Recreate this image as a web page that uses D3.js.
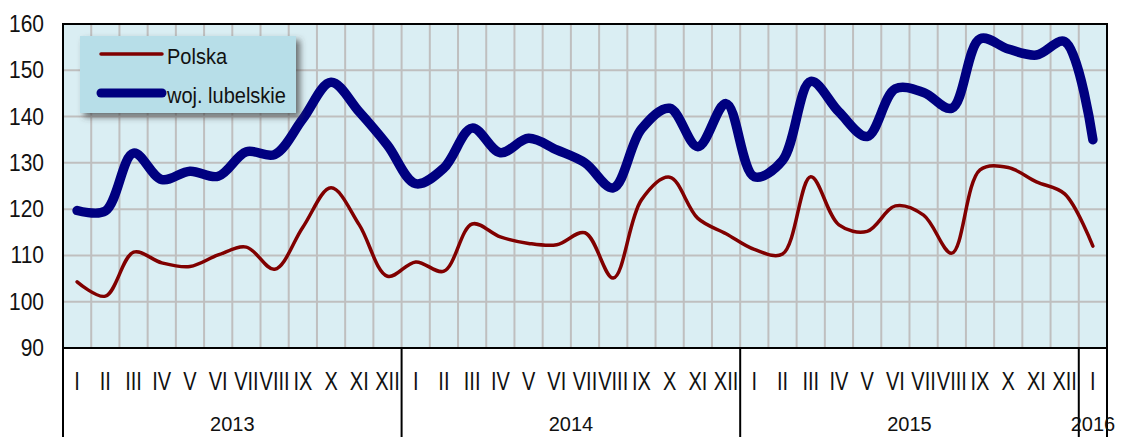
<!DOCTYPE html>
<html>
<head>
<meta charset="utf-8">
<script src="https://cdn.jsdelivr.net/npm/d3@7"></script>
<style>
  html, body { margin: 0; padding: 0; background: #ffffff; }
  svg { display: block; font-family: "Liberation Sans", Arial, sans-serif; }
</style>
</head>
<body>
<svg id="chart" width="1122" height="437"></svg>
<script>
// Month labels and years
var Months = ["I", "II", "III", "IV", "V", "VI", "VII", "VIII", "IX", "X", "XI", "XII"];
var Years = ["2013", "2014", "2015", "2016"];
var YearMonths = [12, 12, 12, 1];
var YTicks = [90, 100, 110, 120, 130, 140, 150, 160];
// Series values (Jan 2013 .. Jan 2016)
var Polska = [104.3, 101.2, 110.7, 108.4, 107.6, 110.1, 111.8, 107.0, 116.1, 124.6, 116.6, 105.5,
              108.6, 106.6, 116.8, 114.0, 112.6, 112.3, 114.9, 105.1, 122.0, 126.9, 118.0, 114.7,
              111.3, 110.3, 127.0, 116.6, 115.2, 120.7, 118.7, 110.5, 128.5, 129.0, 125.9, 123.3,
              112.0];
var Lubelskie = [119.7, 119.6, 132.1, 126.4, 128.2, 127.1, 132.4, 131.8, 139.5, 147.4, 141.0, 133.8,
                 125.5, 128.9, 137.5, 132.2, 135.3, 132.8, 130.0, 124.6, 137.3, 141.8, 133.5, 142.8,
                 127.0, 130.5, 147.6, 141.0, 135.7, 146.0, 145.2, 141.8, 156.8, 154.6, 153.3, 156.2,
                 135.0];
var SeriesNames = ["Polska", "woj. lubelskie"];

// Build the category list
var Categories = [];
Years.forEach((Year, I) => {
    for (var M = 0; M < YearMonths[I]; M++) Categories.push({ Year: Year, Month: Months[M] });
});
var Indexes = Categories.map((C, I) => I);

var SVG = d3.select("#chart");
var Left = 63, Right = 1107, Top = 24, Bottom = 348;
var X = d3.scaleBand().domain(Indexes).range([Left, Right]).padding(0);
var Y = d3.scaleLinear().domain([90, 160]).range([Bottom, Top]);

// Shadow filter for the legend
var Defs = SVG.append("defs");
var Filter = Defs.append("filter").attr("id", "shadow").attr("x", "-10%").attr("y", "-20%").attr("width", "130%").attr("height", "150%");
Filter.append("feDropShadow").attr("dx", 4).attr("dy", 4).attr("stdDeviation", 3)
    .attr("flood-color", "#404040").attr("flood-opacity", 0.75);

// Plot background
SVG.append("rect").attr("x", Left).attr("y", Top).attr("width", Right - Left).attr("height", Bottom - Top)
    .attr("fill", "#daeef3");

// Grid lines
var Grid = SVG.append("g").attr("stroke", "#bfbfbf").attr("stroke-width", 2);
Grid.selectAll("line.h").data(YTicks.filter(T => T > 90 && T < 160)).enter().append("line")
    .attr("x1", Left).attr("x2", Right).attr("y1", D => Y(D)).attr("y2", D => Y(D));
Grid.selectAll("line.v").data(Indexes.slice(1)).enter().append("line")
    .attr("x1", D => X(D)).attr("x2", D => X(D)).attr("y1", Top).attr("y2", Bottom);

// Y axis labels
SVG.append("g").selectAll("text").data(YTicks).enter().append("text")
    .attr("x", 44).attr("y", D => Y(D) + 8)
    .attr("text-anchor", "end").attr("font-size", 21).attr("fill", "#111")
    .attr("transform", D => `translate(0,${Y(D) + 8}) scale(1,1.1) translate(0,${-(Y(D) + 8)})`)
    .text(D => D);

// Lines
var Line = d3.line().x((D, I) => X(I) + X.bandwidth() / 2).y(D => Y(D)).curve(d3.curveCatmullRom.alpha(0.5));
SVG.append("path").datum(Polska).attr("d", Line).attr("fill", "none")
    .attr("stroke", "#800000").attr("stroke-width", 3.5).attr("stroke-linecap", "round").attr("stroke-linejoin", "round");
SVG.append("path").datum(Lubelskie).attr("d", Line).attr("fill", "none")
    .attr("stroke", "#000080").attr("stroke-width", 9.5).attr("stroke-linecap", "round").attr("stroke-linejoin", "round");

// Plot frame
SVG.append("rect").attr("x", Left).attr("y", Top).attr("width", Right - Left).attr("height", Bottom - Top)
    .attr("fill", "none").attr("stroke", "#000").attr("stroke-width", 2);

// Category axis: month labels
SVG.append("g").selectAll("text").data(Categories).enter().append("text")
    .attr("x", (D, I) => X(I) + X.bandwidth() / 2).attr("y", 390)
    .attr("text-anchor", "middle").attr("font-size", 20).attr("fill", "#111")
    .attr("transform", `translate(0,390) scale(1,1.25) translate(0,-390)`)
    .text(D => D.Month);

// Year separators and labels
var Bounds = [0];
YearMonths.forEach(N => Bounds.push(Bounds[Bounds.length - 1] + N));
var Separators = SVG.append("g").attr("stroke", "#000").attr("stroke-width", 2);
Bounds.forEach(B => {
    var PX = B < Categories.length ? X(B) : Right;
    Separators.append("line").attr("x1", PX).attr("x2", PX).attr("y1", Bottom).attr("y2", 437);
});
SVG.append("g").selectAll("text").data(Years).enter().append("text")
    .attr("x", (D, I) => {
        var A = X(Bounds[I]);
        var B = Bounds[I + 1] < Categories.length ? X(Bounds[I + 1]) : Right;
        return (A + B) / 2;
    })
    .attr("y", 431).attr("text-anchor", "middle").attr("font-size", 20).attr("fill", "#111")
    .text(D => D);

// Legend
var Legend = SVG.append("g");
Legend.append("rect").attr("x", 80).attr("y", 36).attr("width", 216).attr("height", 77)
    .attr("fill", "#b7dee8").attr("filter", "url(#shadow)");
var Styles = [{ Color: "#800000", Width: 3.5, Y: 54 }, { Color: "#000080", Width: 9, Y: 93 }];
SeriesNames.forEach((Name, I) => {
    Legend.append("line").attr("x1", 101).attr("x2", 162).attr("y1", Styles[I].Y).attr("y2", Styles[I].Y)
        .attr("stroke", Styles[I].Color).attr("stroke-width", Styles[I].Width).attr("stroke-linecap", "round");
    Legend.append("text").attr("x", 167).attr("y", Styles[I].Y + 10).attr("font-size", 20).attr("fill", "#111")
        .attr("transform", `translate(0,${Styles[I].Y + 10}) scale(1,1.1) translate(0,${-(Styles[I].Y + 10)})`)
        .text(Name);
});
</script>
</body>
</html>
